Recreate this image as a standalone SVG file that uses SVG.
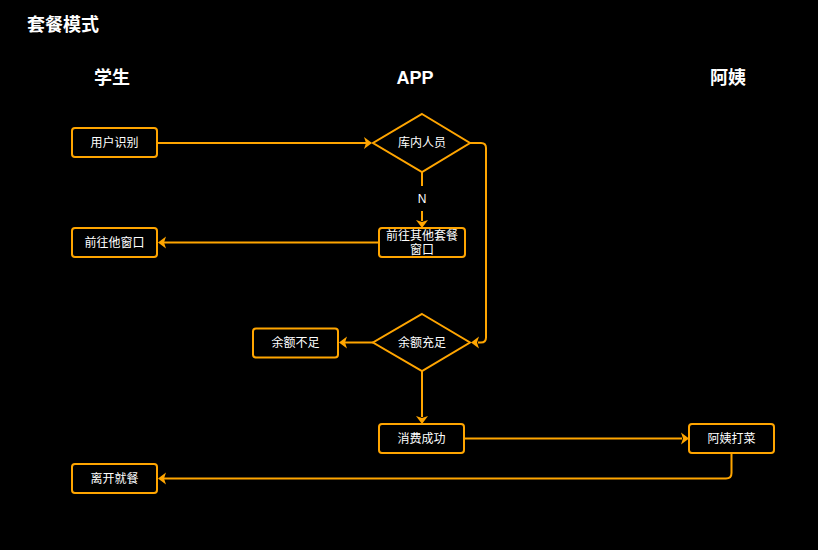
<svg xmlns="http://www.w3.org/2000/svg" width="818" height="550" viewBox="0 0 818 550">
<style>
.bg{fill:#000}
.n{fill:#000;stroke:#ffa500;stroke-width:2}
.t{fill:#fff;font-family:"Liberation Sans","Noto Sans CJK SC",sans-serif;font-size:12px;text-anchor:middle;dominant-baseline:central}
.h{fill:#fff;font-family:"Liberation Sans","Noto Sans CJK SC",sans-serif;font-size:18px;font-weight:bold;text-anchor:middle;dominant-baseline:central}
.e{fill:none;stroke:#ffa500;stroke-width:2}
</style>
<defs>
<marker id="a" viewBox="0 0 10 10" refX="9" refY="5" markerWidth="5" markerHeight="5" orient="auto" markerUnits="userSpaceOnUse">
<path d="M0,0 L10,5 L0,10 L2,5 Z" fill="#ffa500"/>
</marker>
</defs>
<rect class="bg" width="818" height="550"/>
<text class="h" x="63" y="25">套餐模式</text>
<text class="h" x="112" y="78">学生</text>
<text class="h" x="415" y="78">APP</text>
<text class="h" x="728" y="78">阿姨</text>
<g id="edges">
<path class="e" d="M157,143 H371" marker-end="url(#a)" style="marker-end:none"/>
<path d="M364,137 L372,143 L364,149 L366,143 Z" fill="#ffa500"/>
<path class="e" d="M422,172 V186"/>
<path class="e" d="M422,211 V221"/>
<path d="M416,220 L422,228 L428,220 L422,222 Z" fill="#ffa500"/>
<text class="t" x="422" y="199">N</text>
<path class="e" d="M379,242.5 H164"/>
<path d="M166,236.5 L158,242.5 L166,248.5 L164,242.5 Z" fill="#ffa500"/>
<path class="e" d="M470,143 H481 Q486,143 486,148 V337.5 Q486,342.5 481,342.5 H478"/>
<path d="M479,336.5 L471,342.5 L479,348.5 L477,342.5 Z" fill="#ffa500"/>
<path class="e" d="M373,342.5 H345"/>
<path d="M347,336.5 L339,342.5 L347,348.5 L345,342.5 Z" fill="#ffa500"/>
<path class="e" d="M422,371 V417"/>
<path d="M416,416 L422,424 L428,416 L422,418 Z" fill="#ffa500"/>
<path class="e" d="M464,438.5 H682"/>
<path d="M681,432.5 L689,438.5 L681,444.5 L683,438.5 Z" fill="#ffa500"/>
<path class="e" d="M731.5,453 V473 Q731.5,478.5 726,478.5 H164"/>
<path d="M166,472.5 L158,478.5 L166,484.5 L164,478.5 Z" fill="#ffa500"/>
</g>
<g id="n1"><rect class="n" x="72" y="128" width="85" height="29" rx="3"/><text class="t" x="114.5" y="142.5">用户识别</text></g>
<g id="n2"><path class="n" d="M422,114 L470,143 L422,172 L373,143 Z"/><text class="t" x="422" y="143">库内人员</text></g>
<g id="n3"><rect class="n" x="379" y="228" width="86" height="29" rx="3"/><text class="t" x="422" y="235.5">前往其他套餐</text><text class="t" x="422" y="249.5">窗口</text></g>
<g id="n4"><rect class="n" x="72" y="228" width="85" height="29" rx="3"/><text class="t" x="114.5" y="242.5">前往他窗口</text></g>
<g id="n5"><path class="n" d="M422,314 L470,342.5 L422,371 L373,342.5 Z"/><text class="t" x="422" y="342.5">余额充足</text></g>
<g id="n6"><rect class="n" x="253" y="328.5" width="85" height="29" rx="3"/><text class="t" x="295.5" y="343">余额不足</text></g>
<g id="n7"><rect class="n" x="379" y="424" width="85" height="29" rx="3"/><text class="t" x="421.5" y="438.5">消费成功</text></g>
<g id="n8"><rect class="n" x="689" y="424" width="85" height="29" rx="3"/><text class="t" x="731.5" y="438.5">阿姨打菜</text></g>
<g id="n9"><rect class="n" x="72" y="464" width="85" height="29" rx="3"/><text class="t" x="114.5" y="478.5">离开就餐</text></g>
</svg>
